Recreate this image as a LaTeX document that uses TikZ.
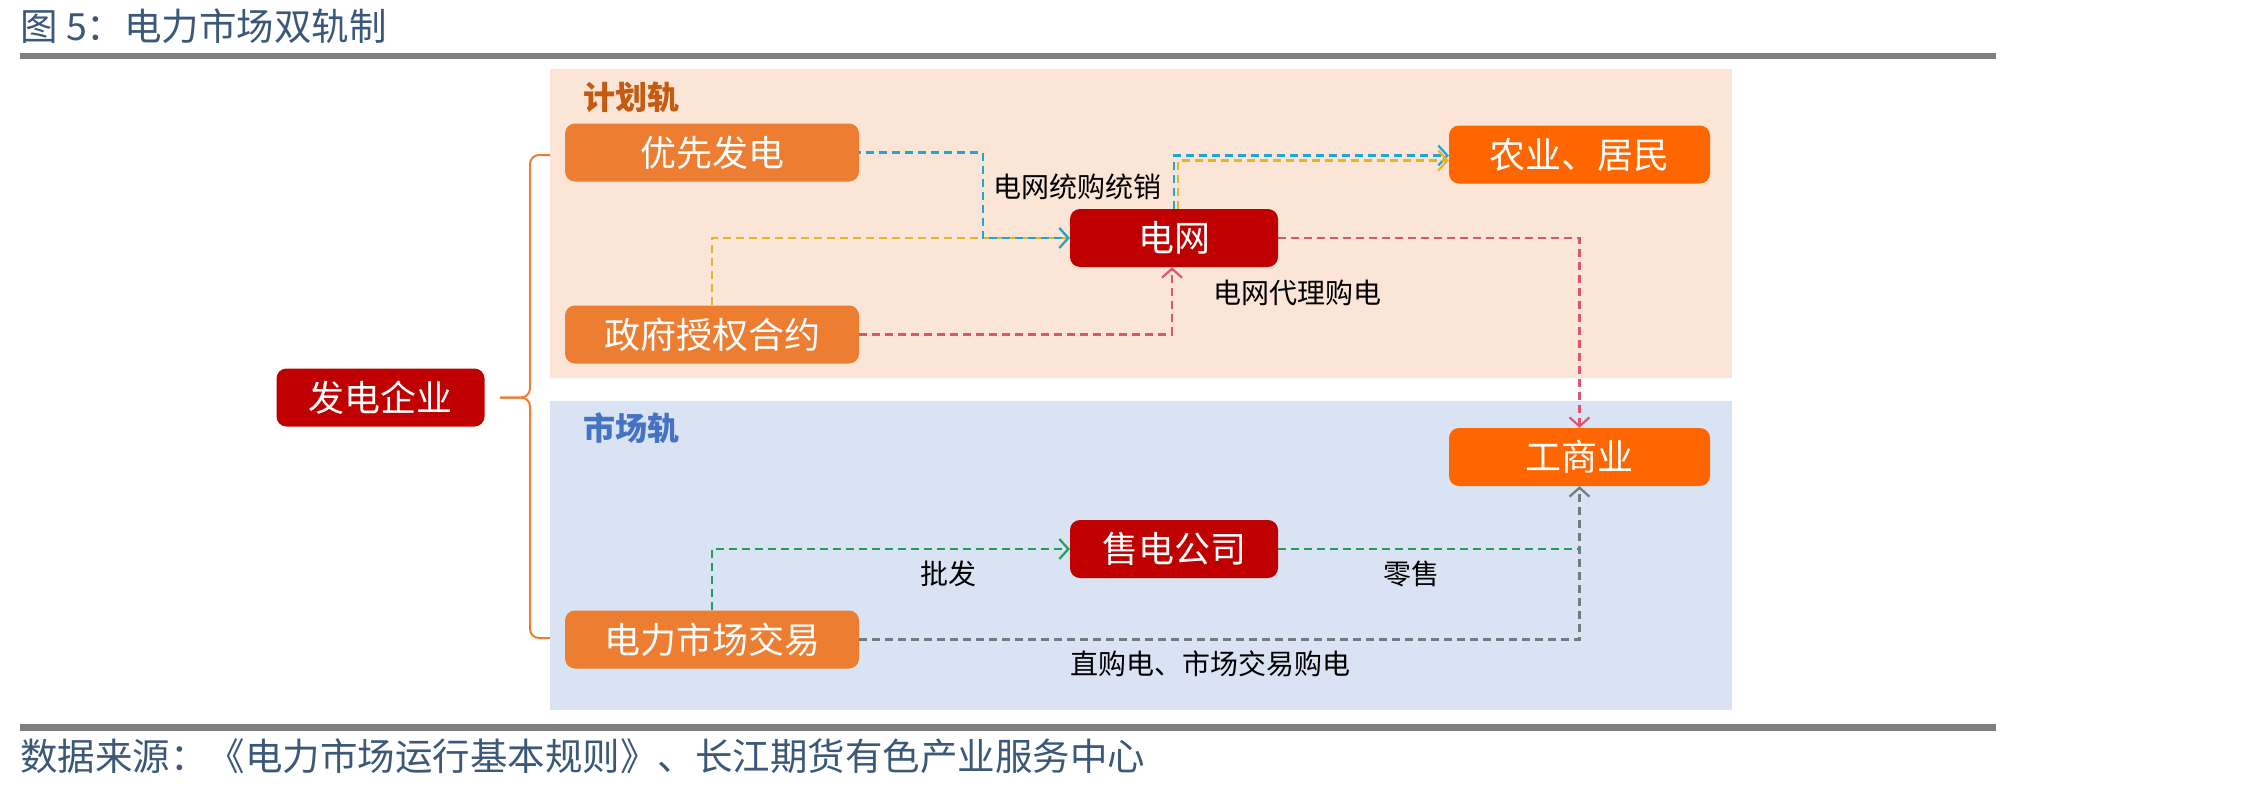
\documentclass[tikz,border=0pt]{standalone}
\usepackage{fontspec}
\newfontfamily\cjk{Noto Sans CJK SC}
\usetikzlibrary{arrows.meta}
\definecolor{cOrange}{HTML}{ED7D31}
\definecolor{cBright}{HTML}{FF6600}
\definecolor{cRed}{HTML}{C00000}
\definecolor{cPinkBg}{HTML}{FBE5D6}
\definecolor{cBlueBg}{HTML}{DAE3F3}
\definecolor{cPlan}{HTML}{C55A11}
\definecolor{cMarket}{HTML}{4472C4}
\definecolor{cTitle}{HTML}{3B5878}
\definecolor{cRule}{HTML}{808080}
\definecolor{lnBlue}{HTML}{1FA5D6}
\definecolor{lnYellow}{HTML}{E3B628}
\definecolor{lnPink}{HTML}{DB5671}
\definecolor{lnGreen}{HTML}{1FA05A}
\definecolor{lnGray}{HTML}{6F7D7D}
\begin{document}
\begin{tikzpicture}[x=1pt,y=-1pt,
  base/.style={rectangle, rounded corners=10pt, minimum height=58pt, inner sep=0pt,
    text=white, font=\cjk\fontsize{36}{40}\selectfont},
  obox/.style={base, fill=cOrange, minimum width=294pt},
  rbox/.style={base, fill=cRed, minimum width=208pt},
  ybox/.style={base, fill=cBright, minimum width=261pt},
  lbl/.style={inner sep=0pt, text=black, font=\cjk\fontsize{28}{32}\selectfont},
  rail/.style={inner sep=0pt, font=\cjk\bfseries\fontsize{32}{36}\selectfont},
  conn/.style={line width=2.2pt, dash pattern=on 8pt off 5pt,
    -{Straight Barb[length=9pt,width=20pt,line width=2.2pt]}},
  plain/.style={line width=2.2pt, dash pattern=on 8pt off 5pt},
  brace/.style={draw=cOrange, line width=2pt, rounded corners=9pt},
  headtext/.style={anchor=west, inner sep=0pt, text=cTitle, font=\cjk\fontsize{37.5}{42}\selectfont}
]
\useasboundingbox (0,0) rectangle (2246,790);
% title and rules
\node[headtext] (title) at (20,26) {图 5：电力市场双轨制};
\fill[cRule] (20,53) rectangle (1996,59);
\fill[cRule] (20,724) rectangle (1996,731);
\node[headtext] (src) at (20,756) {数据来源：《电力市场运行基本规则》、长江期货有色产业服务中心};
% backgrounds
\fill[cPinkBg] (550,69) rectangle (1732,378);
\fill[cBlueBg] (550,401) rectangle (1732,710);
\node[rail, text=cPlan] (plan) at (631,97) {计划轨};
\node[rail, text=cMarket] (market) at (631,428) {市场轨};
% nodes
\node[rbox] (gen) at (380.5,397.5) {发电企业};
\node[obox] (prio) at (712,152.5) {优先发电};
\node[obox] (gov) at (712,334.5) {政府授权合约};
\node[obox] (mkt) at (712,639.5) {电力市场交易};
\node[rbox] (grid) at (1174,238) {电网};
\node[rbox] (sale) at (1174,549) {售电公司};
\node[ybox] (agri) at (1579.5,154.5) {农业、居民};
\node[ybox] (com) at (1579.5,457) {工商业};
% brace
\coordinate (bt) at (550,155);
\coordinate (bb) at (550,638);
\coordinate (tip) at (500,397.5);
\draw[brace] (bt) -- (530,155) -- (530,397.5) -- (tip);
\draw[brace] (tip) -- (530,397.5) -- (530,638) -- (bb);
% connectors
\coordinate (b1) at (983,200);
\coordinate (gj) at (1579.5,549);
\draw[conn, lnYellow] (gov.north) |- (grid.west);
\draw[conn, lnBlue, dash phase=6pt] (prio.east) -| (b1) |- (grid.west);
\draw[conn, lnBlue] (grid.north) |- ([yshift=-1pt]agri.west);
\draw[conn, lnYellow] ([xshift=4pt]grid.north) |- ([yshift=-6pt]agri.west);
\draw[conn, lnPink] (gov.east) -| ([xshift=-2pt]grid.south);
\draw[conn, lnPink] (grid.east) -| (com.north);
\draw[conn, lnGreen] (mkt.north) |- (sale.west);
\draw[plain, lnGreen] (sale.east) -- (gj);
\draw[conn, lnGray] (mkt.east) -| (com.south);
% labels
\node[lbl] (l1) at (1077,187) {电网统购统销};
\node[lbl] (l2) at (1297,293) {电网代理购电};
\node[lbl] (l3) at (948,574) {批发};
\node[lbl] (l4) at (1411,574) {零售};
\node[lbl] (l5) at (1210,664) {直购电、市场交易购电};
\end{tikzpicture}
\end{document}
